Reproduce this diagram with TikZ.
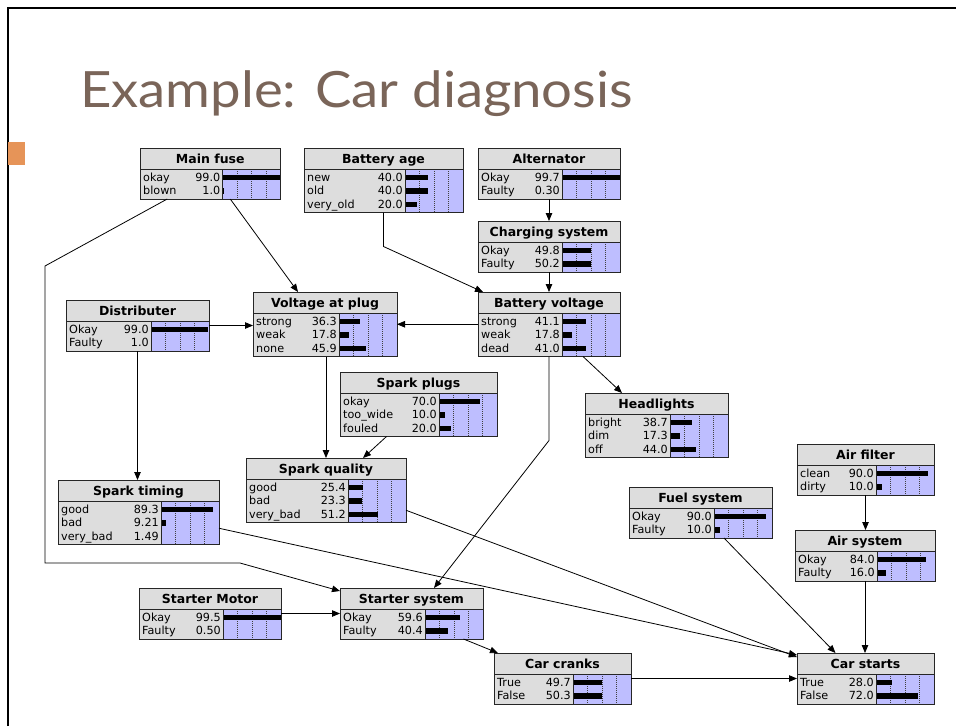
\documentclass[tikz,border=0pt]{standalone}
\usepackage{fontspec}
\setmainfont{DejaVu Sans}
\newfontfamily\slidefont{Lato}
\usetikzlibrary{arrows.meta,calc}

\definecolor{hdrgray}{RGB}{221,221,221}
\definecolor{lav}{RGB}{190,190,255}
\definecolor{slidetitle}{RGB}{122,101,89}
\definecolor{bulletorange}{RGB}{230,148,88}

\tikzset{
  conn/.style={draw=black, line width=0.8pt, -{Triangle[length=8pt,width=6.5pt]}},
  boxline/.style={draw=black!85, line width=1pt},
  gridline/.style={draw=black!75, line width=0.7pt, dash pattern=on 1pt off 1pt},
  hdr/.style={font=\bfseries\fontsize{12.5}{13}\selectfont, inner sep=0pt},
  st/.style={font=\fontsize{11.2}{12}\selectfont, inner sep=0pt},
  anchorbox/.style={inner sep=0pt, outer sep=0pt, draw=none}
}

% #1 name, #2 left x, #3 top y, #4 split x, #5 right x, #6 number of rows,
% #7 title, #8 list of state/probability pairs
\newcommand\bayesnode[8]{%
  \pgfmathsetmacro\ybot{#3+21+13.5*#6+3}%
  \pgfmathsetmacro\ysep{#3+21}%
  \fill[hdrgray] (#2,#3) rectangle (#5,\ybot);
  \fill[lav] (#4,\ysep) rectangle (#5,\ybot);
  \foreach \f in {0.25,0.5,0.75}
    \draw[gridline] ({#4+\f*(#5-#4)},\ysep) -- ({#4+\f*(#5-#4)},\ybot);
  \foreach \lab/\val [count=\i] in {#8} {
    \pgfmathsetmacro\yr{\ysep+1.5+13.5*\i-6.75}
    \fill[black] (#4,\yr-2.75) rectangle ({#4+\val/100*(#5-#4)},\yr+2.75);
    \node[st,anchor=base west] at (#2+3,\yr+4) {\lab};
    \node[st,anchor=base east] at (#4-2,\yr+4) {\val};
  }
  \node[hdr,anchor=base] at ({(#2+#5)/2},#3+15) {#7};
  \draw[boxline] (#2,#3) rectangle (#5,\ybot);
  \draw[boxline] (#2,\ysep) -- (#5,\ysep);
  \draw[boxline] (#4,\ysep) -- (#4,\ybot);
  \node[anchorbox, minimum width={(#5-#2)*1pt}, minimum height={(\ybot-#3)*1pt},
        anchor=north west] (#1) at (#2,#3) {};
}

\begin{document}
\begin{tikzpicture}[x=1pt,y=-1pt]
\useasboundingbox (0,0) rectangle (956,726);
\fill[white] (0,0) rectangle (956,726);

% slide frame, bullet and heading
\draw[black, line width=2pt] (8,726) -- (8,8) -- (956,8);
\fill[bulletorange] (8,142) rectangle (25,165);
\node[anchor=base west, inner sep=0pt, text=slidetitle,
      font=\slidefont\fontsize{50}{56}\selectfont] (heading) at (80,107)
      {\scalebox{1.09}[1]{Example: Car diagnosis}};

% network nodes
\bayesnode{mfuse}{140}{148}{222.5}{280.5}{2}{Main fuse}{okay/99.0, blown/1.0}
\bayesnode{bage}{304}{148}{405}{463}{3}{Battery age}{new/40.0, old/40.0, very\_old/20.0}
\bayesnode{alt}{478}{148}{562}{620}{2}{Alternator}{Okay/99.7, Faulty/0.30}
\bayesnode{chg}{478}{221}{562}{620}{2}{Charging system}{Okay/49.8, Faulty/50.2}
\bayesnode{dist}{66}{300}{151}{209}{2}{Distributer}{Okay/99.0, Faulty/1.0}
\bayesnode{vplug}{253}{292}{339}{397}{3}{Voltage at plug}{strong/36.3, weak/17.8, none/45.9}
\bayesnode{battv}{478}{292}{562}{620}{3}{Battery voltage}{strong/41.1, weak/17.8, dead/41.0}
\bayesnode{splugs}{340}{372}{439}{497}{3}{Spark plugs}{okay/70.0, too\_wide/10.0, fouled/20.0}
\bayesnode{headl}{585}{393}{670}{728}{3}{Headlights}{bright/38.7, dim/17.3, off/44.0}
\bayesnode{squal}{246}{458}{348}{406}{3}{Spark quality}{good/25.4, bad/23.3, very\_bad/51.2}
\bayesnode{stime}{58}{480}{161}{219}{3}{Spark timing}{good/89.3, bad/9.21, very\_bad/1.49}
\bayesnode{afilt}{797}{444}{876}{934}{2}{Air filter}{clean/90.0, dirty/10.0}
\bayesnode{fuel}{629}{487}{714}{772}{2}{Fuel system}{Okay/90.0, Faulty/10.0}
\bayesnode{airsys}{795}{530}{877}{935}{2}{Air system}{Okay/84.0, Faulty/16.0}
\bayesnode{smotor}{139}{588}{223}{281}{2}{Starter Motor}{Okay/99.5, Faulty/0.50}
\bayesnode{startsys}{340}{588}{425}{483}{2}{Starter system}{Okay/59.6, Faulty/40.4}
\bayesnode{ccranks}{494}{653}{573}{631}{2}{Car cranks}{True/49.7, False/50.3}
\bayesnode{cstarts}{797}{653}{876}{934}{2}{Car starts}{True/28.0, False/72.0}

% bend points of the routed links
\coordinate (fuseA) at (45,266);
\coordinate (fuseB) at (45,563);
\coordinate (fuseC) at (240,563);

% links
\draw[conn] ([xshift=20pt]mfuse.south) -- ([xshift=-27pt]vplug.north);
\draw[conn] ([xshift=-43pt]mfuse.south) -- (fuseA) -- (fuseB) -- (fuseC) -- ([yshift=-3pt]startsys.north west);
\draw[conn] (bage.south) -- ++(0,34) -- ([xshift=5pt]battv.north west);
\draw[conn] (alt.south) -- (chg.north);
\draw[conn] (chg.south) -- (battv.north);
\draw[conn] (battv.west) -- (battv.west -| vplug.east);
\draw[conn] (dist.east) -- (dist.east -| vplug.west);
\draw[conn] (dist.south) -- (dist.south |- stime.north);
\draw[conn] ([xshift=34pt]battv.south) -- ([xshift=-34.5pt]headl.north);
\draw[conn] (battv.south) -- ++(0,84) -- ([xshift=22.5pt]startsys.north);
\draw[conn] (vplug.south -| squal.north) -- (squal.north);
\draw[conn] ([xshift=-32pt]splugs.south) -- ([xshift=37pt]squal.north);
\draw[conn] ([yshift=-20pt]squal.east) -- ([yshift=-4pt]cstarts.north west);
\draw[conn] ([yshift=-16pt]stime.east) -- ([yshift=-2pt]cstarts.north west);
\draw[conn] ([xshift=23.5pt]fuel.south) -- ([xshift=-30pt]cstarts.north);
\draw[conn] (airsys.south) -- (airsys.south |- cstarts.north);
\draw[conn] (afilt.south) -- (afilt.south |- airsys.north);
\draw[conn] (smotor.east) -- (smotor.east -| startsys.west);
\draw[conn] ([xshift=52pt]startsys.south) -- ([xshift=4pt]ccranks.north west);
\draw[conn] (ccranks.east) -- (ccranks.east -| cstarts.west);
\end{tikzpicture}
\end{document}
